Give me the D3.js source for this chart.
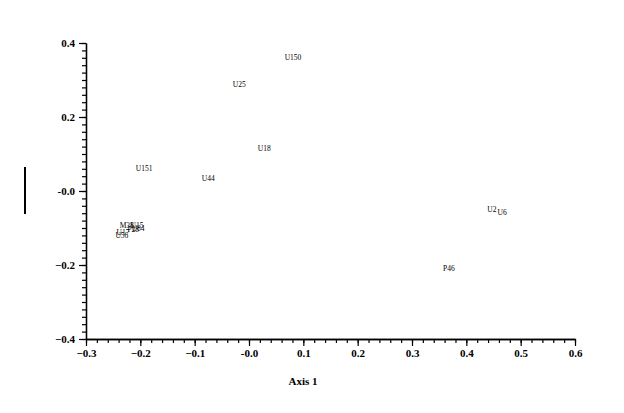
<!DOCTYPE html>
<html><head><meta charset="utf-8">
<script src="https://cdn.jsdelivr.net/npm/d3@7"></script>
<style>body{margin:0;background:#fff}svg{display:block}</style>
</head><body>
<svg id="c" width="624" height="413"></svg>
<script>
const labels = ["U150","U25","U18","U151","U44","U2","U6","P46","M38","U15","P28","U84","U17","U56"];
const axis1  = [0.081,-0.018,0.028,-0.193,-0.075,0.447,0.466,0.368,-0.225,-0.206,-0.213,-0.204,-0.232,-0.234];
const axis2  = [0.362,0.289,0.116,0.062,0.035,-0.051,-0.059,-0.208,-0.092,-0.092,-0.103,-0.100,-0.111,-0.119];
const xTicks = [-0.3,-0.2,-0.1,0.0,0.1,0.2,0.3,0.4,0.5,0.6];
const yTicks = [0.4,0.2,0.0,-0.2,-0.4];
const xTitle = "Axis 1";

const svg = d3.select("#c");
const x = d3.scaleLinear().domain([-0.3,0.6]).range([86,575]);
const y = d3.scaleLinear().domain([-0.4,0.4]).range([339,43]);
const fmt = v => (Math.abs(v)<1e-9 ? "-0.0" : d3.format(".1f")(v));
const font = "'Liberation Serif','Times New Roman',serif";

// minor ticks
const xMinor = d3.range(0,46).map(i=>-0.3+i*0.02);
const yMinor = d3.range(0,41).map(i=>-0.4+i*0.02);

const gx = svg.append("g").attr("transform","translate(0,339)")
  .call(d3.axisBottom(x).tickValues(xMinor).tickSize(4).tickFormat("").tickSizeOuter(0));
gx.append("g").call(d3.axisBottom(x).tickValues(xTicks).tickSize(7).tickFormat(fmt).tickSizeOuter(0).tickPadding(3));
const gy = svg.append("g").attr("transform","translate(86,0)")
  .call(d3.axisLeft(y).tickValues(yMinor).tickSize(4).tickFormat("").tickSizeOuter(0));
gy.append("g").call(d3.axisLeft(y).tickValues(yTicks).tickSize(7).tickFormat(fmt).tickSizeOuter(0).tickPadding(4));

svg.selectAll(".domain").attr("stroke","#000").attr("stroke-width",1.3);
svg.selectAll(".tick line").attr("stroke","#000").attr("stroke-width",1.2);
svg.selectAll(".tick text").attr("font-family",font).attr("font-weight","bold")
  .attr("font-size",11).attr("fill","#000");

svg.append("text").attr("x",303).attr("y",385).attr("text-anchor","middle")
  .attr("font-family",font).attr("font-weight","bold").attr("font-size",11).text(xTitle);

// rotated axis-2 bar marker
svg.append("line").attr("x1",25).attr("x2",25).attr("y1",167).attr("y2",214)
  .attr("stroke","#000").attr("stroke-width",2);

svg.append("g").selectAll("text").data(labels).join("text")
  .attr("x",(d,i)=>x(axis1[i])).attr("y",(d,i)=>y(axis2[i]))
  .attr("text-anchor","middle").attr("dy","0.35em")
  .attr("font-family",font).attr("font-size",7.5).attr("fill","#000")
  .text(d=>d);
</script>
</body></html>
